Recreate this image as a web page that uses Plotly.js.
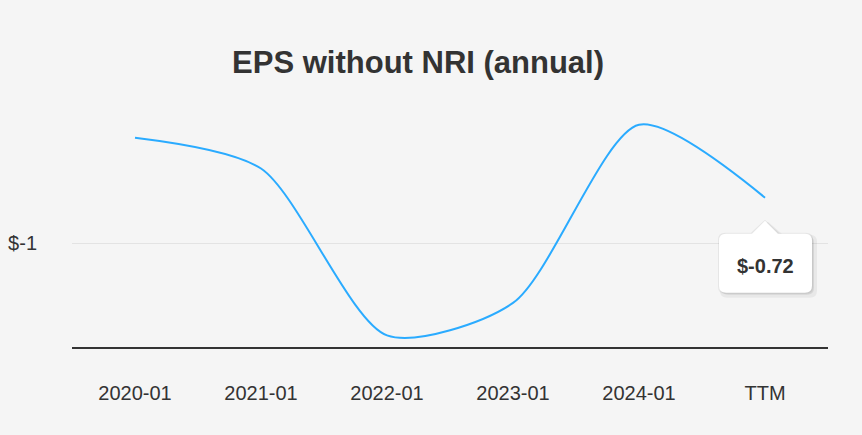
<!DOCTYPE html>
<html>
<head>
<meta charset="utf-8">
<script src="https://cdn.plot.ly/plotly-3.0.1.min.js"></script>
<style>
html,body{margin:0;padding:0;background:#f5f5f5;}
#chart{width:862px;height:435px;}
</style>
</head>
<body>
<div id="chart"></div>
<script>
const categories = ["2020-01", "2021-01", "2022-01", "2023-01", "2024-01", "TTM"];
const epsValues = [-0.35, -0.54, -1.57, -1.37, -0.27, -0.72];
const yTickValues = [-1];
const yTickLabels = ["$-1"];
const lastLabel = "$-0.72";

const trace = {
  x: categories,
  y: epsValues,
  type: "scatter",
  mode: "lines",
  line: {color: "#2aabff", width: 2, shape: "spline", smoothing: 0.75},
  hoverinfo: "skip"
};

const lastX = categories[categories.length - 1];
const lastY = epsValues[epsValues.length - 1];

// tooltip outline (pixel offsets relative to the last point)
function tipPath(dx, dy, g) {
  const L = -46 + dx - g, R = 47 + dx + g, T = -36 + dy + g, B = -95 + dy - g, r = 7;
  return "M " + (L + r) + "," + T +
    " L " + (-13 + dx - g) + "," + T + " L " + dx + "," + (-23 + dy + g) + " L " + (13 + dx + g) + "," + T +
    " L " + (R - r) + "," + T + " Q " + R + "," + T + " " + R + "," + (T - r) +
    " L " + R + "," + (B + r) + " Q " + R + "," + B + " " + (R - r) + "," + B +
    " L " + (L + r) + "," + B + " Q " + L + "," + B + " " + L + "," + (B + r) +
    " L " + L + "," + (T - r) + " Q " + L + "," + T + " " + (L + r) + "," + T + " Z";
}

function tipShape(dx, dy, g, color) {
  return {
    type: "path", layer: "above",
    xref: "x", yref: "y", xsizemode: "pixel", ysizemode: "pixel",
    xanchor: lastX, yanchor: lastY,
    path: tipPath(dx, dy, g),
    fillcolor: color, line: {width: 0}
  };
}

const layout = {
  width: 862, height: 435,
  paper_bgcolor: "#f5f5f5",
  plot_bgcolor: "#f5f5f5",
  margin: {l: 72, r: 34, t: 100, b: 88},
  showlegend: false,
  font: {family: "Liberation Sans, Arial, sans-serif", color: "#333"},
  title: {
    text: "<b>EPS without NRI (annual)</b>",
    x: 0.485, xanchor: "center", y: 0.857, yanchor: "middle",
    font: {size: 31, color: "#333", family: "Liberation Sans, Arial, sans-serif"}
  },
  xaxis: {
    type: "category",
    range: [-0.5, 5.5],
    showgrid: false,
    zeroline: false,
    showline: true, linecolor: "#333", linewidth: 2,
    ticks: "outside", ticklen: 27, tickcolor: "rgba(0,0,0,0)",
    tickfont: {size: 20, color: "#333"},
    fixedrange: true
  },
  yaxis: {
    range: [-1.642, -0.117],
    tickvals: yTickValues,
    ticktext: yTickLabels,
    showgrid: true, gridcolor: "#e3e3e3", gridwidth: 1,
    zeroline: false, showline: false,
    ticks: "outside", ticklen: 30, tickcolor: "rgba(0,0,0,0)",
    tickfont: {size: 20, color: "#333"},
    fixedrange: true
  },
  shapes: [
    tipShape(3, -3, 2, "rgba(0,0,0,0.05)"),
    tipShape(2, -2, 0, "rgba(0,0,0,0.08)"),
    tipShape(0, 0, 1, "rgba(0,0,0,0.06)"),
    tipShape(0, 0, 0, "#ffffff")
  ],
  annotations: [
    {
      x: lastX, y: lastY, xref: "x", yref: "y",
      text: "<b>" + lastLabel + "</b>", showarrow: false,
      yanchor: "middle", yshift: -68, xshift: 0,
      font: {size: 20, color: "#333"}
    }
  ]
};

Plotly.newPlot("chart", [trace], layout, {displayModeBar: false, staticPlot: true});
</script>
</body>
</html>
